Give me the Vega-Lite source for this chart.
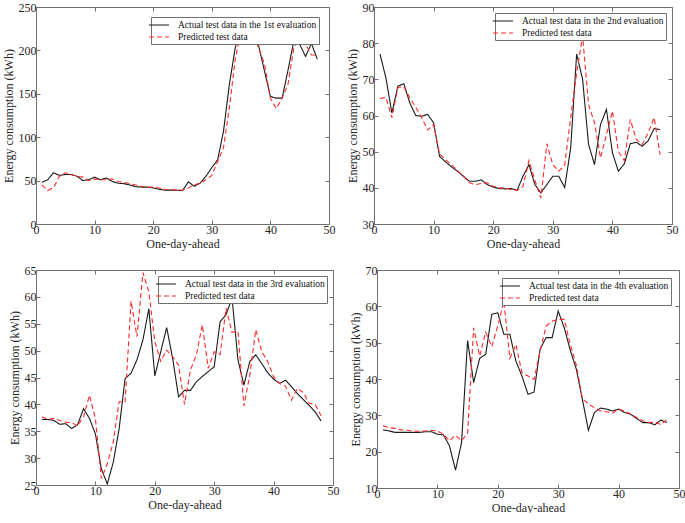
{
"$schema": "https://vega.github.io/schema/vega-lite/v6.json",
"padding": {"left": 2, "top": 1, "right": 0, "bottom": 0},
"background": "white",
"datasets": {
"p1": [
{"x":1,"actual":48,"predicted":45},{"x":2,"actual":51,"predicted":38.5},{"x":3,"actual":59,"predicted":42},{"x":4,"actual":56,"predicted":55},{"x":5,"actual":57,"predicted":59},{"x":6,"actual":57,"predicted":57},{"x":7,"actual":55,"predicted":55},{"x":8,"actual":50,"predicted":54},{"x":9,"actual":51,"predicted":50},{"x":10,"actual":54,"predicted":52},
{"x":11,"actual":51,"predicted":51},{"x":12,"actual":53,"predicted":51},{"x":13,"actual":49,"predicted":52},{"x":14,"actual":47,"predicted":49},{"x":15,"actual":46.5,"predicted":48},{"x":16,"actual":45,"predicted":46.5},{"x":17,"actual":43,"predicted":45},{"x":18,"actual":42.5,"predicted":43.5},{"x":19,"actual":42.5,"predicted":42.5},{"x":20,"actual":41.5,"predicted":42.5},
{"x":21,"actual":40,"predicted":41.5},{"x":22,"actual":39,"predicted":40},{"x":23,"actual":39,"predicted":39.5},{"x":24,"actual":39,"predicted":39},{"x":25,"actual":38.5,"predicted":39},{"x":26,"actual":48.5,"predicted":41.5},{"x":27,"actual":43.5,"predicted":45},{"x":28,"actual":47,"predicted":47},{"x":29,"actual":55,"predicted":51},{"x":30,"actual":65,"predicted":56},
{"x":31,"actual":74,"predicted":72},{"x":32,"actual":107,"predicted":88},{"x":33,"actual":161,"predicted":134},{"x":34,"actual":203,"predicted":190},{"x":35,"actual":228,"predicted":222},{"x":36,"actual":228,"predicted":232},{"x":37,"actual":215,"predicted":218},{"x":38,"actual":205,"predicted":203},{"x":39,"actual":176,"predicted":184},{"x":40,"actual":147,"predicted":145},
{"x":41,"actual":145,"predicted":133},{"x":42,"actual":145,"predicted":145},{"x":43,"actual":177,"predicted":161},{"x":44,"actual":211,"predicted":203},{"x":45,"actual":207,"predicted":217},{"x":46,"actual":193,"predicted":207},{"x":47,"actual":208,"predicted":195},{"x":48,"actual":190,"predicted":194}
],
"p2": [
{"x":1,"actual":77,"predicted":64.7},{"x":2,"actual":70.4,"predicted":65},{"x":3,"actual":60.7,"predicted":59.4},{"x":4,"actual":68.1,"predicted":67.7},{"x":5,"actual":68.8,"predicted":68},{"x":6,"actual":63.5,"predicted":64.9},{"x":7,"actual":60,"predicted":62.3},{"x":8,"actual":59.8,"predicted":59.4},{"x":9,"actual":60.3,"predicted":56},{"x":10,"actual":58,"predicted":57.5},
{"x":11,"actual":48.7,"predicted":49.4},{"x":12,"actual":47.2,"predicted":47.8},{"x":13,"actual":45.8,"predicted":46.4},{"x":14,"actual":44.6,"predicted":44.8},{"x":15,"actual":43.2,"predicted":43.2},{"x":16,"actual":41.8,"predicted":41.4},{"x":17,"actual":41.8,"predicted":40.9},{"x":18,"actual":42.2,"predicted":41.2},{"x":19,"actual":40.9,"predicted":41.4},{"x":20,"actual":40.2,"predicted":40.4},
{"x":21,"actual":39.8,"predicted":40},{"x":22,"actual":39.7,"predicted":40},{"x":23,"actual":39.8,"predicted":39.5},{"x":24,"actual":39.3,"predicted":39.3},{"x":25,"actual":43.2,"predicted":40.4},{"x":26,"actual":46.4,"predicted":47.5},{"x":27,"actual":40.9,"predicted":42.1},{"x":28,"actual":38.6,"predicted":37.2},{"x":29,"actual":40.9,"predicted":52.2},{"x":30,"actual":43.2,"predicted":46.4},
{"x":31,"actual":43.2,"predicted":44.6},{"x":32,"actual":40.1,"predicted":46.4},{"x":33,"actual":51,"predicted":59.4},{"x":34,"actual":77,"predicted":71.8},{"x":35,"actual":70,"predicted":82},{"x":36,"actual":52,"predicted":63},{"x":37,"actual":46.4,"predicted":58},{"x":38,"actual":57.5,"predicted":48.3},{"x":39,"actual":61.7,"predicted":54.7},{"x":40,"actual":49.7,"predicted":61.2},
{"x":41,"actual":44.6,"predicted":50.1},{"x":42,"actual":46.6,"predicted":47.5},{"x":43,"actual":52.2,"predicted":58.9},{"x":44,"actual":52.6,"predicted":53.4},{"x":45,"actual":51.5,"predicted":52},{"x":46,"actual":53,"predicted":55.2},{"x":47,"actual":56.4,"predicted":59.4},{"x":48,"actual":56.1,"predicted":49.2}
],
"p3": [
{"x":1,"actual":37.2,"predicted":37.7},{"x":2,"actual":37.2,"predicted":37.2},{"x":3,"actual":37,"predicted":37.4},{"x":4,"actual":36.3,"predicted":37},{"x":5,"actual":36.4,"predicted":36.7},{"x":6,"actual":35.5,"predicted":36.6},{"x":7,"actual":36.2,"predicted":36},{"x":8,"actual":39.2,"predicted":37.7},{"x":9,"actual":37.4,"predicted":41.7},{"x":10,"actual":34.5,"predicted":37.4},
{"x":11,"actual":28,"predicted":26.2},{"x":12,"actual":25.2,"predicted":28.9},{"x":13,"actual":29.2,"predicted":33},{"x":14,"actual":35.5,"predicted":40.5},{"x":15,"actual":44.8,"predicted":40.5},{"x":16,"actual":45.8,"predicted":59.2},{"x":17,"actual":48.3,"predicted":52.6},{"x":18,"actual":52,"predicted":64.5},{"x":19,"actual":57.8,"predicted":60.9},{"x":20,"actual":45.3,"predicted":51.7},
{"x":21,"actual":49.8,"predicted":48},{"x":22,"actual":54.3,"predicted":50.1},{"x":23,"actual":48.6,"predicted":48.9},{"x":24,"actual":41.4,"predicted":47.3},{"x":25,"actual":42.6,"predicted":40},{"x":26,"actual":42.6,"predicted":46.4},{"x":27,"actual":44.2,"predicted":49.2},{"x":28,"actual":45.2,"predicted":54.8},{"x":29,"actual":46.1,"predicted":46.7},{"x":30,"actual":47,"predicted":49.8},
{"x":31,"actual":55.4,"predicted":49.3},{"x":32,"actual":56.7,"predicted":57.9},{"x":33,"actual":59.8,"predicted":53.4},{"x":34,"actual":48.3,"predicted":53.6},{"x":35,"actual":43.6,"predicted":39.7},{"x":36,"actual":48,"predicted":45.5},{"x":37,"actual":49.2,"predicted":53.9},{"x":38,"actual":47.6,"predicted":49.8},{"x":39,"actual":45.9,"predicted":48},{"x":40,"actual":44.7,"predicted":45.1},
{"x":41,"actual":43.9,"predicted":43.9},{"x":42,"actual":44.5,"predicted":43.4},{"x":43,"actual":43.3,"predicted":40.8},{"x":44,"actual":42,"predicted":43},{"x":45,"actual":40.9,"predicted":42.2},{"x":46,"actual":39.8,"predicted":40.2},{"x":47,"actual":38.6,"predicted":40},{"x":48,"actual":36.9,"predicted":37.9}
],
"p4": [
{"x":1,"actual":26,"predicted":27.1},{"x":2,"actual":25.7,"predicted":26.6},{"x":3,"actual":25.3,"predicted":26.4},{"x":4,"actual":25.3,"predicted":26},{"x":5,"actual":25.3,"predicted":25.9},{"x":6,"actual":25.3,"predicted":25.7},{"x":7,"actual":25.3,"predicted":25.6},{"x":8,"actual":25.5,"predicted":25.7},{"x":9,"actual":25.5,"predicted":25.9},{"x":10,"actual":24.8,"predicted":25.7},
{"x":11,"actual":24.6,"predicted":24.8},{"x":12,"actual":21.6,"predicted":23},{"x":13,"actual":14.9,"predicted":24.5},{"x":14,"actual":22.5,"predicted":23},{"x":15,"actual":50.6,"predicted":25.1},{"x":16,"actual":39,"predicted":54.1},{"x":17,"actual":45.7,"predicted":46.3},{"x":18,"actual":46.8,"predicted":52.9},{"x":19,"actual":57.8,"predicted":48.9},{"x":20,"actual":58.2,"predicted":54.6},
{"x":21,"actual":52.3,"predicted":61.4},{"x":22,"actual":52.3,"predicted":45.7},{"x":23,"actual":44.9,"predicted":49.5},{"x":24,"actual":40.8,"predicted":41.7},{"x":25,"actual":35.8,"predicted":40.8},{"x":26,"actual":36.4,"predicted":39.9},{"x":27,"actual":48.2,"predicted":47.7},{"x":28,"actual":51.4,"predicted":54.6},{"x":29,"actual":51.4,"predicted":55.9},{"x":30,"actual":58.7,"predicted":56.4},
{"x":31,"actual":54.1,"predicted":56.4},{"x":32,"actual":47.9,"predicted":49.5},{"x":33,"actual":42.7,"predicted":43.8},{"x":34,"actual":34.4,"predicted":34.6},{"x":35,"actual":25.9,"predicted":33.1},{"x":36,"actual":30.8,"predicted":32.1},{"x":37,"actual":32,"predicted":31.2},{"x":38,"actual":31.7,"predicted":31},{"x":39,"actual":31.2,"predicted":30.6},{"x":40,"actual":31.7,"predicted":31.7},
{"x":41,"actual":30.8,"predicted":31.2},{"x":42,"actual":30.3,"predicted":30.3},{"x":43,"actual":29.1,"predicted":29.4},{"x":44,"actual":28,"predicted":28.5},{"x":45,"actual":28,"predicted":28},{"x":46,"actual":27.4,"predicted":28.2},{"x":47,"actual":28.7,"predicted":27.4},{"x":48,"actual":28,"predicted":28.9}
]
},
"vconcat": [
{"hconcat": [
{"width": 293, "height": 217, "data": {"name": "p1"},
 "layer": [
  {"mark": {"type": "line", "strokeWidth": 1.1, "clip": true},
   "encoding": {
    "x": {"field": "x", "type": "quantitative", "scale": {"domain": [0, 50], "nice": false}, "axis": {"values": [0,10,20,30,40,50], "title": "One-day-ahead"}},
    "y": {"field": "actual", "type": "quantitative", "scale": {"domain": [0, 250], "nice": false, "zero": false}, "axis": {"values": [0,50,100,150,200,250], "title": "Energy consumption (kWh)"}},
    "color": {"datum": "Actual test data in the 1st evaluation", "type": "nominal", "scale": {"domain": ["Actual test data in the 1st evaluation", "Predicted test data"], "range": ["#1a1a1a", "#ff2a2a"]}, "legend": {"title": null, "offset": 10}},
    "strokeDash": {"datum": "Actual test data in the 1st evaluation", "type": "nominal", "scale": {"domain": ["Actual test data in the 1st evaluation", "Predicted test data"], "range": [[1,0],[5,3]]}, "legend": {"title": null, "offset": 10}}
   }},
  {"mark": {"type": "line", "strokeWidth": 1.1, "clip": true},
   "encoding": {
    "x": {"field": "x", "type": "quantitative", "axis": {"orient": "top", "values": [0,10,20,30,40,50], "labels": false, "title": null}},
    "y": {"field": "predicted", "type": "quantitative", "axis": {"orient": "right", "values": [0,50,100,150,200,250], "labels": false, "title": null}},
    "color": {"datum": "Predicted test data", "type": "nominal"},
    "strokeDash": {"datum": "Predicted test data", "type": "nominal"}
   }}
 ],
 "resolve": {"axis": {"x": "independent", "y": "independent"}}
},
{"width": 298, "height": 217, "data": {"name": "p2"},
 "layer": [
  {"mark": {"type": "line", "strokeWidth": 1.1, "clip": true},
   "encoding": {
    "x": {"field": "x", "type": "quantitative", "scale": {"domain": [0, 50], "nice": false}, "axis": {"values": [0,10,20,30,40,50], "title": "One-day-ahead"}},
    "y": {"field": "actual", "type": "quantitative", "scale": {"domain": [30, 90], "nice": false, "zero": false}, "axis": {"values": [30,40,50,60,70,80,90], "title": "Energy consumption (kWh)"}},
    "color": {"datum": "Actual test data in the 2nd evaluation", "type": "nominal", "scale": {"domain": ["Actual test data in the 2nd evaluation", "Predicted test data"], "range": ["#1a1a1a", "#ff2a2a"]}, "legend": {"title": null, "offset": 6}},
    "strokeDash": {"datum": "Actual test data in the 2nd evaluation", "type": "nominal", "scale": {"domain": ["Actual test data in the 2nd evaluation", "Predicted test data"], "range": [[1,0],[5,3]]}, "legend": {"title": null, "offset": 6}}
   }},
  {"mark": {"type": "line", "strokeWidth": 1.1, "clip": true},
   "encoding": {
    "x": {"field": "x", "type": "quantitative", "axis": {"orient": "top", "values": [0,10,20,30,40,50], "labels": false, "title": null}},
    "y": {"field": "predicted", "type": "quantitative", "axis": {"orient": "right", "values": [30,40,50,60,70,80,90], "labels": false, "title": null}},
    "color": {"datum": "Predicted test data", "type": "nominal"},
    "strokeDash": {"datum": "Predicted test data", "type": "nominal"}
   }}
 ],
 "resolve": {"axis": {"x": "independent", "y": "independent"}}
}
],
"spacing": 11,
"resolve": {"scale": {"color": "independent", "strokeDash": "independent"}, "legend": {"color": "independent", "strokeDash": "independent"}}
},
{"hconcat": [
{"width": 297, "height": 215, "data": {"name": "p3"},
 "layer": [
  {"mark": {"type": "line", "strokeWidth": 1.1, "clip": true},
   "encoding": {
    "x": {"field": "x", "type": "quantitative", "scale": {"domain": [0, 50], "nice": false}, "axis": {"values": [0,10,20,30,40,50], "title": "One-day-ahead"}},
    "y": {"field": "actual", "type": "quantitative", "scale": {"domain": [25, 65], "nice": false, "zero": false}, "axis": {"values": [25,30,35,40,45,50,55,60,65], "title": "Energy consumption (kWh)"}},
    "color": {"datum": "Actual test data in the 3rd evaluation", "type": "nominal", "scale": {"domain": ["Actual test data in the 3rd evaluation", "Predicted test data"], "range": ["#1a1a1a", "#ff2a2a"]}, "legend": {"title": null, "offset": 6}},
    "strokeDash": {"datum": "Actual test data in the 3rd evaluation", "type": "nominal", "scale": {"domain": ["Actual test data in the 3rd evaluation", "Predicted test data"], "range": [[1,0],[5,3]]}, "legend": {"title": null, "offset": 6}}
   }},
  {"mark": {"type": "line", "strokeWidth": 1.1, "clip": true},
   "encoding": {
    "x": {"field": "x", "type": "quantitative", "axis": {"orient": "top", "values": [0,10,20,30,40,50], "labels": false, "title": null}},
    "y": {"field": "predicted", "type": "quantitative", "axis": {"orient": "right", "values": [25,30,35,40,45,50,55,60,65], "labels": false, "title": null}},
    "color": {"datum": "Predicted test data", "type": "nominal"},
    "strokeDash": {"datum": "Predicted test data", "type": "nominal"}
   }}
 ],
 "resolve": {"axis": {"x": "independent", "y": "independent"}}
},
{"width": 302, "height": 218, "data": {"name": "p4"},
 "layer": [
  {"mark": {"type": "line", "strokeWidth": 1.1, "clip": true},
   "encoding": {
    "x": {"field": "x", "type": "quantitative", "scale": {"domain": [0, 50], "nice": false}, "axis": {"values": [0,10,20,30,40,50], "title": "One-day-ahead"}},
    "y": {"field": "actual", "type": "quantitative", "scale": {"domain": [10, 70], "nice": false, "zero": false}, "axis": {"values": [10,20,30,40,50,60,70], "title": "Energy consumption (kWh)"}},
    "color": {"datum": "Actual test data in the 4th evaluation", "type": "nominal", "scale": {"domain": ["Actual test data in the 4th evaluation", "Predicted test data"], "range": ["#1a1a1a", "#ff2a2a"]}, "legend": {"title": null, "offset": 8}},
    "strokeDash": {"datum": "Actual test data in the 4th evaluation", "type": "nominal", "scale": {"domain": ["Actual test data in the 4th evaluation", "Predicted test data"], "range": [[1,0],[5,3]]}, "legend": {"title": null, "offset": 8}}
   }},
  {"mark": {"type": "line", "strokeWidth": 1.1, "clip": true},
   "encoding": {
    "x": {"field": "x", "type": "quantitative", "axis": {"orient": "top", "values": [0,10,20,30,40,50], "labels": false, "title": null}},
    "y": {"field": "predicted", "type": "quantitative", "axis": {"orient": "right", "values": [10,20,30,40,50,60,70], "labels": false, "title": null}},
    "color": {"datum": "Predicted test data", "type": "nominal"},
    "strokeDash": {"datum": "Predicted test data", "type": "nominal"}
   }}
 ],
 "resolve": {"axis": {"x": "independent", "y": "independent"}}
}
],
"spacing": 10,
"resolve": {"scale": {"color": "independent", "strokeDash": "independent"}, "legend": {"color": "independent", "strokeDash": "independent"}}
}
],
"spacing": 15,
"resolve": {"scale": {"color": "independent", "strokeDash": "independent"}, "legend": {"color": "independent", "strokeDash": "independent"}},
"config": {
 "font": "Liberation Serif",
 "view": {"stroke": null},
 "axis": {"grid": false, "domainColor": "#707070", "tickColor": "#707070", "tickSize": -4, "labelFont": "Liberation Serif", "titleFont": "Liberation Serif", "labelColor": "#262626", "labelFontSize": 12, "labelPadding": 4, "titleFontSize": 12, "titleFontWeight": "normal", "titleColor": "#262626", "titlePadding": 3, "labelFlush": false, "labelOverlap": false},
 "legend": {"orient": "top-right", "offset": 7, "padding": 2, "strokeColor": "#707070", "fillColor": "white", "symbolType": "M-2,0H2", "symbolSize": 100, "symbolStrokeWidth": 1.2, "labelFont": "Liberation Serif", "labelFontSize": 9.5, "labelColor": "#111111", "rowPadding": 1, "labelLimit": 0, "labelOffset": 13, "zindex": 1}
}
}
